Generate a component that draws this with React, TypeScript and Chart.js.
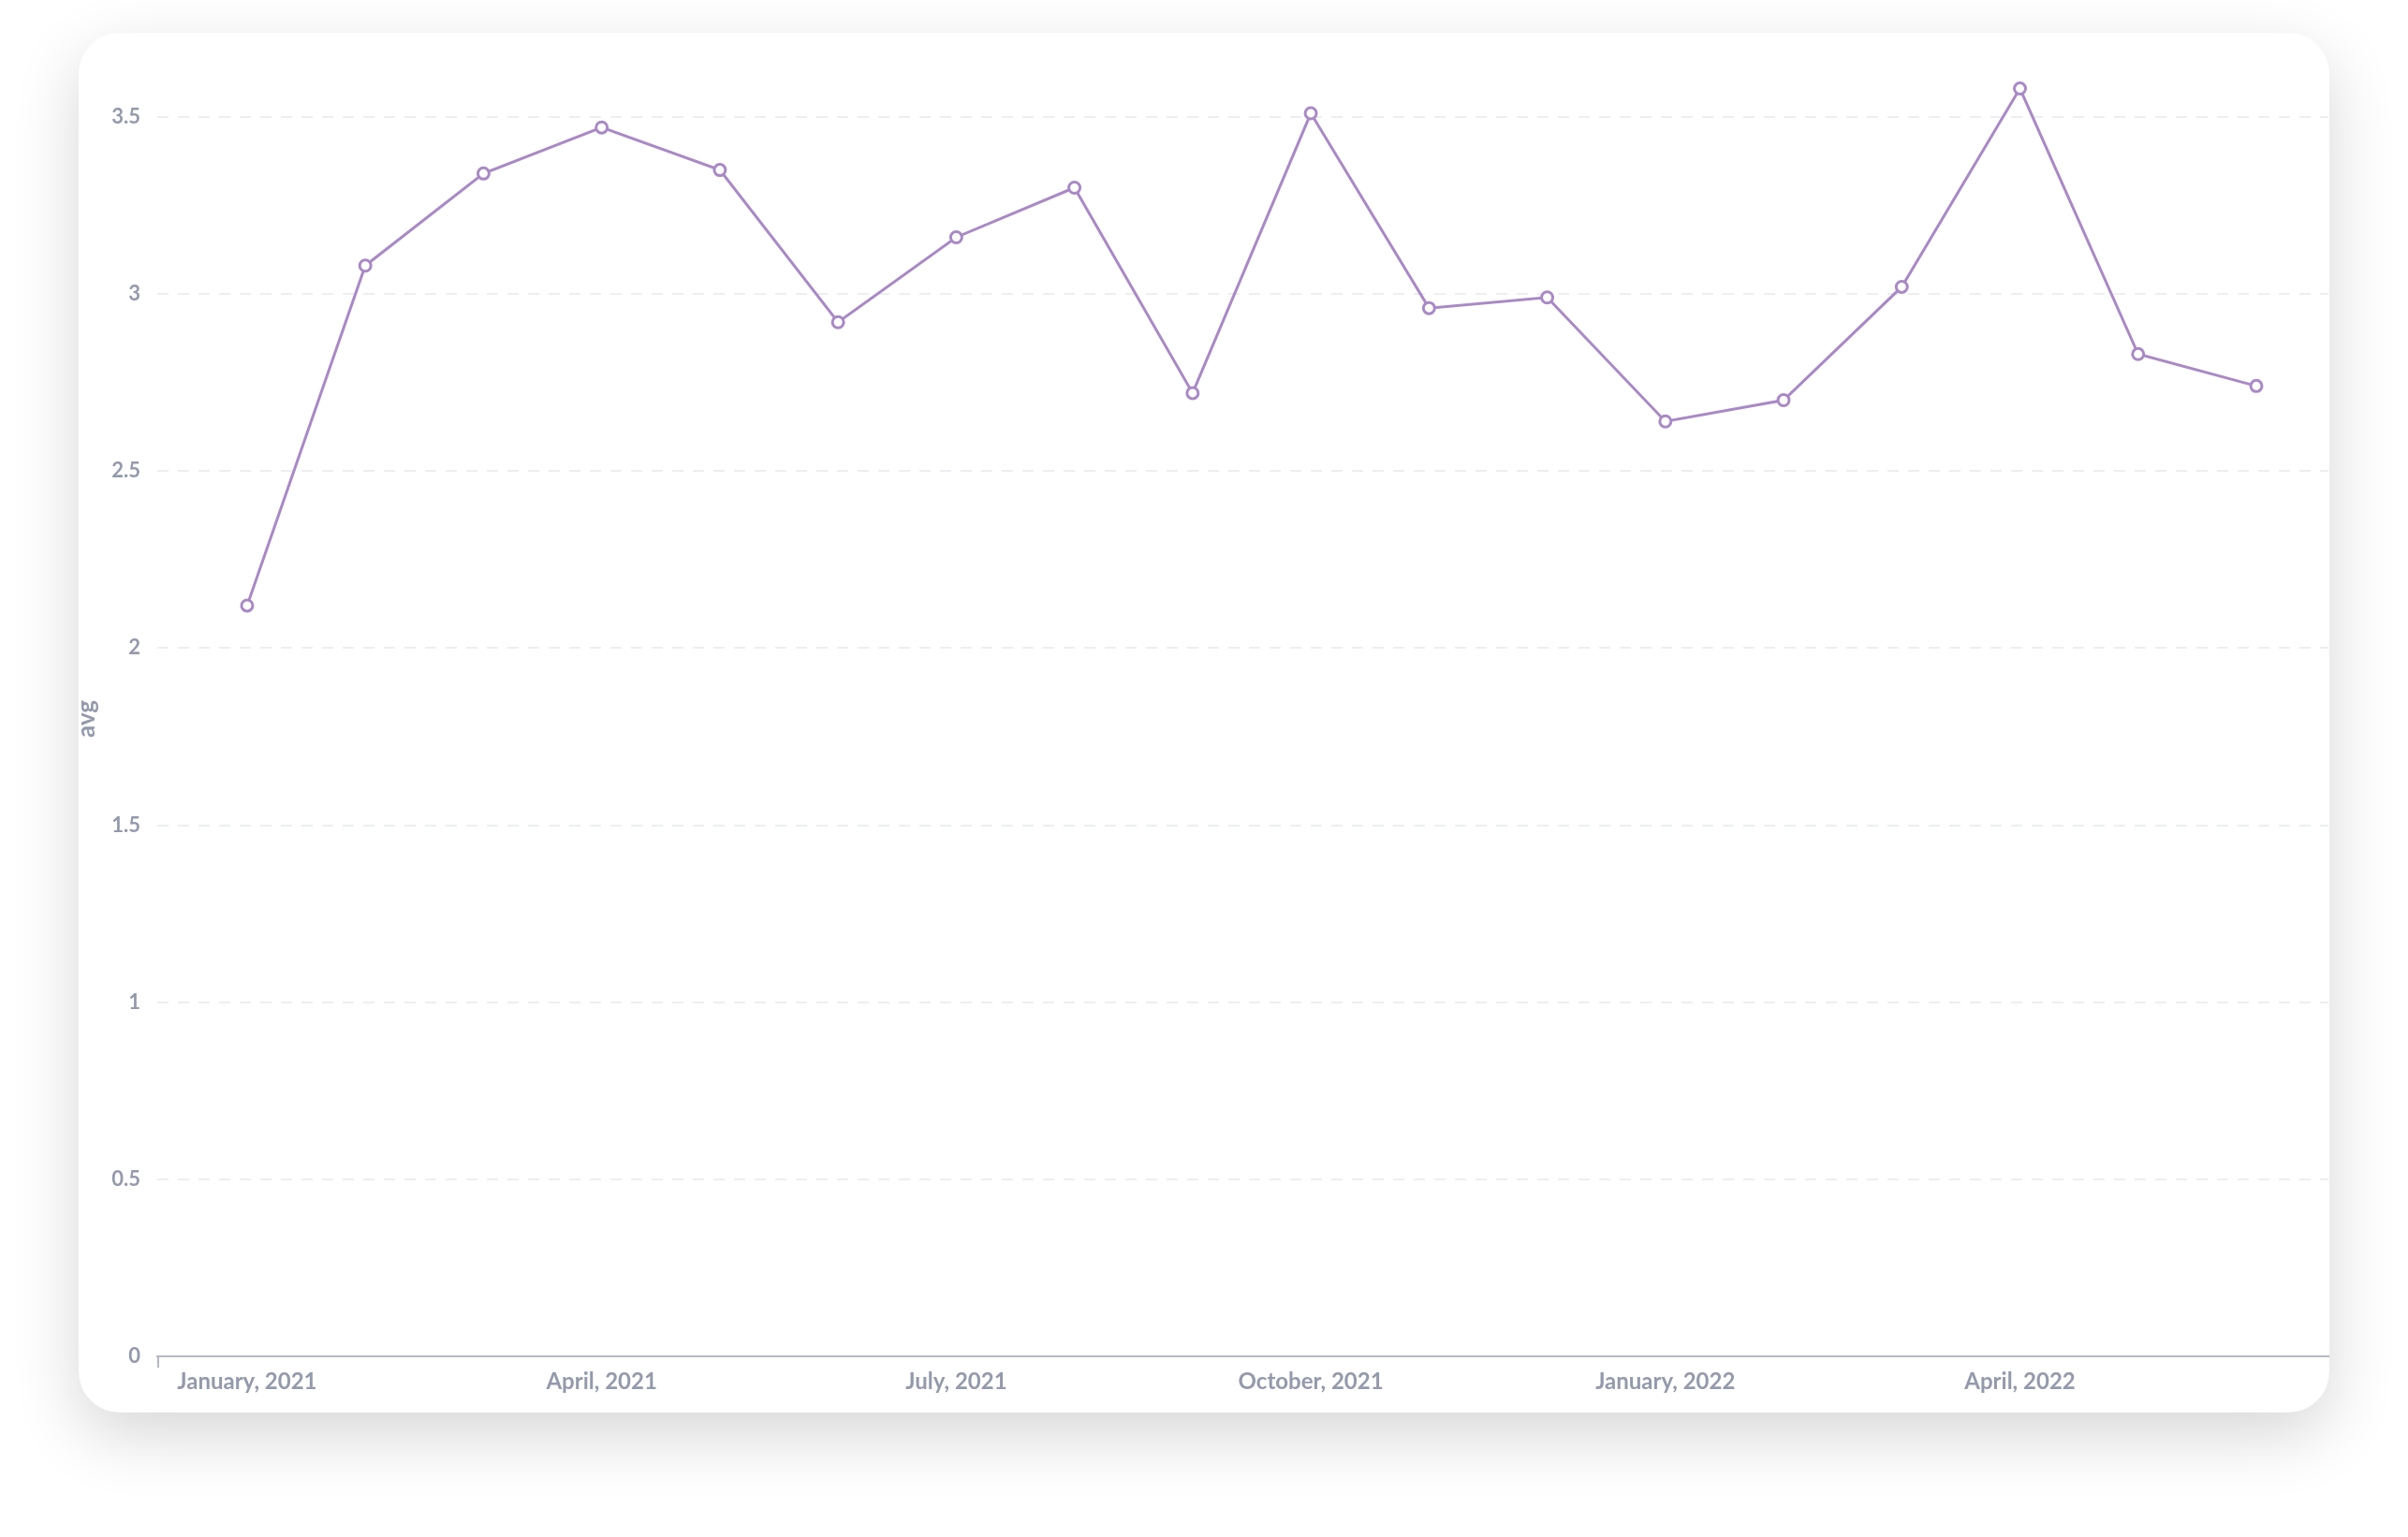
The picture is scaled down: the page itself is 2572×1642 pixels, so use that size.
import React, { useEffect, useRef } from "react";
import { Chart, registerables } from "chart.js";

Chart.register(...registerables);

const months = [
  "January, 2021", "February, 2021", "March, 2021", "April, 2021", "May, 2021", "June, 2021",
  "July, 2021", "August, 2021", "September, 2021", "October, 2021", "November, 2021", "December, 2021",
  "January, 2022", "February, 2022", "March, 2022", "April, 2022", "May, 2022", "June, 2022",
];
const avgValues = [2.12, 3.08, 3.34, 3.47, 3.35, 2.92, 3.16, 3.3, 2.72, 3.51, 2.96, 2.99, 2.64, 2.7, 3.02, 3.58, 2.83, 2.74];
const xTickIndexes = [0, 3, 6, 9, 12, 15];
const yTickValues = [0, 0.5, 1, 1.5, 2, 2.5, 3, 3.5];
const yTitle = "avg";

const TEXT = "#949AAB";
const AXIS = "#B4B8C1";

export default function App() {
  const ref = useRef<HTMLCanvasElement | null>(null);
  useEffect(() => {
    if (!ref.current) return;
    const axisTick = {
      id: "axisTick",
      afterDraw(chart: any) {
        const { ctx, chartArea } = chart;
        ctx.save();
        ctx.strokeStyle = AXIS;
        ctx.lineWidth = 2;
        ctx.beginPath();
        ctx.moveTo(chartArea.left + 1, chartArea.bottom);
        ctx.lineTo(chartArea.left + 1, chartArea.bottom + 12);
        ctx.stroke();
        ctx.restore();
      },
    };
    const chart = new Chart(ref.current, {
      type: "line",
      data: {
        datasets: [
          {
            label: yTitle,
            data: avgValues.map((v, i) => ({ x: i, y: v })),
            borderColor: "#A989C5",
            borderWidth: 3,
            pointRadius: 6,
            pointBorderWidth: 3,
            pointBackgroundColor: "#ffffff",
            pointBorderColor: "#A989C5",
            tension: 0,
          },
        ],
      },
      plugins: [axisTick],
      options: {
        animation: false,
        responsive: false,
        maintainAspectRatio: false,
        layout: { padding: { top: 52, right: 0, bottom: 0, left: 0 } },
        plugins: { legend: { display: false }, tooltip: { enabled: false } },
        scales: {
          x: {
            type: "linear",
            min: -0.76,
            max: 17.61,
            afterBuildTicks: (s: any) => {
              s.ticks = xTickIndexes.map((v) => ({ value: v }));
            },
            afterFit: (s: any) => {
              s.height = 60;
            },
            grid: { display: false, drawTicks: false },
            border: { display: true, color: AXIS, width: 2 },
            ticks: {
              color: TEXT,
              padding: 13,
              maxRotation: 0,
              autoSkip: false,
              font: { family: "Lato", size: 24, weight: "bold" },
              callback: (v: any) => months[Number(v)] ?? "",
            },
          },
          y: {
            type: "linear",
            min: 0,
            max: 3.6,
            afterBuildTicks: (s: any) => {
              s.ticks = yTickValues.map((v) => ({ value: v }));
            },
            afterFit: (s: any) => {
              s.width = 84;
            },
            grid: {
              color: "#EDEEF0",
              lineWidth: 2,
              drawTicks: false,
            },
            border: { display: false, dash: [12, 10] },
            title: {
              display: true,
              text: yTitle,
              color: TEXT,
              padding: 0,
              font: { family: "Lato", size: 26, weight: "bold", lineHeight: 0.7 },
            },
            ticks: {
              color: TEXT,
              padding: 18,
              font: { family: "Lato", size: 22, weight: "bold" },
              callback: (v: any) => String(v),
            },
          },
        },
      } as any,
    });
    return () => chart.destroy();
  }, []);

  return (
    <div style={{ position: "absolute", left: 0, top: 0, width: 2572, height: 1642, background: "#ffffff", overflow: "hidden" }}>
      <div
        style={{
          position: "absolute",
          left: 84,
          top: 35,
          width: 2404,
          height: 1474,
          borderRadius: 44,
          background: "#ffffff",
          boxShadow: "0 24px 70px rgba(0,0,0,0.16)",
          overflow: "hidden",
        }}
      >
        <canvas ref={ref} width={2412} height={1474} style={{ position: "absolute", left: 0, top: 0, width: 2412, height: 1474 }} />
      </div>
    </div>
  );
}
